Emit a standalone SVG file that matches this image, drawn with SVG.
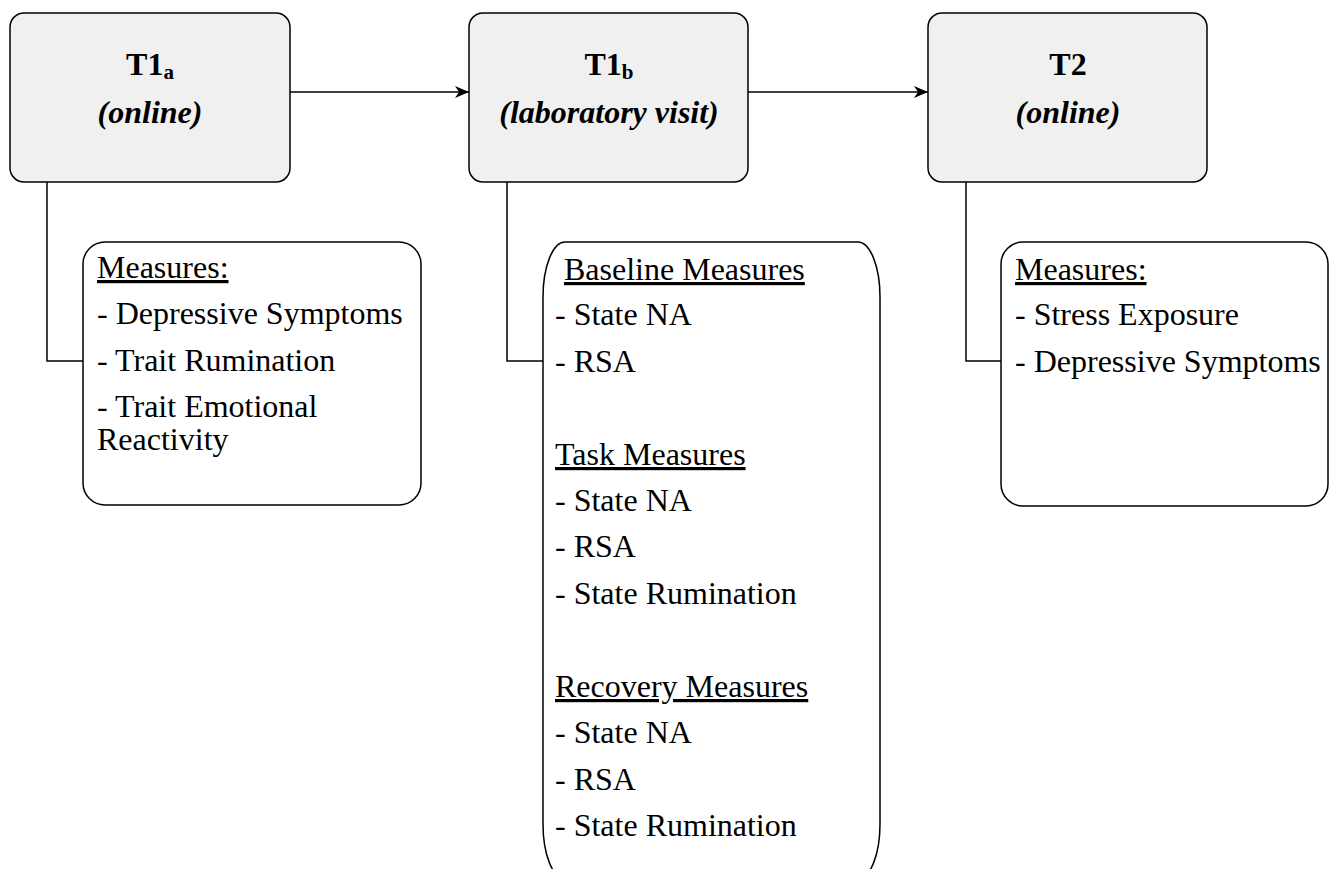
<svg xmlns="http://www.w3.org/2000/svg" width="1329" height="869" viewBox="0 0 1329 869">
<style>
.box{fill:#f0f0f0;stroke:#000;stroke-width:1.5}
.mbox{fill:#fff;stroke:#000;stroke-width:1.5}
.ln{fill:none;stroke:#000;stroke-width:1.5}
text{font-family:'Liberation Serif',Tinos,'Times New Roman',Times,serif;font-size:32px;fill:#000}
.h{font-weight:bold;text-anchor:middle}
.i{font-weight:bold;font-style:italic;text-anchor:middle}
.u{text-decoration:underline}
</style>
<defs>
<marker id="arr" viewBox="0 0 14 12" refX="14" refY="6" markerWidth="14" markerHeight="12" markerUnits="userSpaceOnUse" orient="auto">
<path d="M0,0 L14,6 L0,12 L4,6 Z" fill="#000"/>
</marker>
</defs>
<g id="connectors">
<line class="ln" x1="290" y1="92" x2="469" y2="92" marker-end="url(#arr)"/>
<line class="ln" x1="748" y1="92" x2="928" y2="92" marker-end="url(#arr)"/>
<polyline class="ln" points="47,182 47,361 83,361"/>
<polyline class="ln" points="507,182 507,361 543,361"/>
<polyline class="ln" points="966,182 966,361 1001,361"/>
</g>
<g id="T1a">
<rect class="box" x="10" y="13" width="280" height="169" rx="14"/>
<text class="h" x="150" y="75">T1<tspan font-size="21" dy="4">a</tspan></text>
<text class="i" x="150" y="123">(online)</text>
</g>
<g id="T1b">
<rect class="box" x="469" y="13" width="279" height="169" rx="14"/>
<text class="h" x="609" y="75">T1<tspan font-size="21" dy="4">b</tspan></text>
<text class="i" x="609" y="123">(laboratory visit)</text>
</g>
<g id="T2">
<rect class="box" x="928" y="13" width="279" height="169" rx="14"/>
<text class="h" x="1068" y="75">T2</text>
<text class="i" x="1068" y="123">(online)</text>
</g>
<g id="T1a-measures">
<rect class="mbox" x="83" y="242" width="338" height="263" rx="22"/>
<text class="u" x="97" y="278">Measures:</text>
<text x="97" y="324">- Depressive Symptoms</text>
<text x="97" y="371">- Trait Rumination</text>
<text x="97" y="417">- Trait Emotional</text>
<text x="97" y="450">Reactivity</text>
</g>
<g id="T1b-measures">
<rect class="mbox" x="543" y="242" width="337" height="637" rx="22" ry="55"/>
<text class="u" x="564" y="280">Baseline Measures</text>
<text x="555" y="325">- State NA</text>
<text x="555" y="372">- RSA</text>
<text class="u" x="555" y="465">Task Measures</text>
<text x="555" y="511">- State NA</text>
<text x="555" y="557">- RSA</text>
<text x="555" y="604">- State Rumination</text>
<text class="u" x="555" y="697">Recovery Measures</text>
<text x="555" y="743">- State NA</text>
<text x="555" y="790">- RSA</text>
<text x="555" y="836">- State Rumination</text>
</g>
<g id="T2-measures">
<rect class="mbox" x="1001" y="242" width="327" height="264" rx="22"/>
<text class="u" x="1015" y="280">Measures:</text>
<text x="1015" y="325">- Stress Exposure</text>
<text x="1015" y="372">- Depressive Symptoms</text>
</g>
</svg>
